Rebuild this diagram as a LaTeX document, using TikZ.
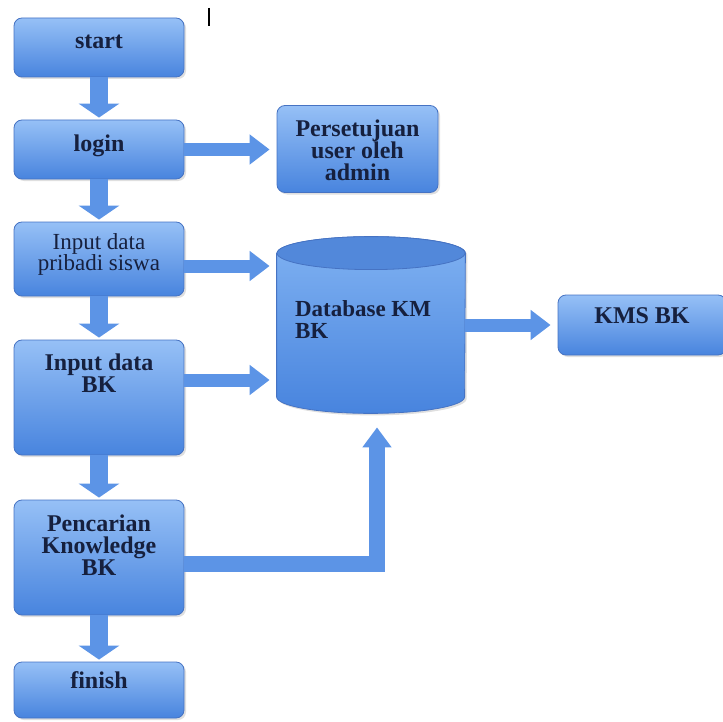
\documentclass[tikz,border=0pt]{standalone}
\usepackage{fontspec}
\setmainfont{Liberation Serif}
\usepackage{xcolor}
\usepackage{tikz}
\usetikzlibrary{positioning}
\usetikzlibrary{calc}
\usetikzlibrary{arrows.meta}
\usetikzlibrary{shadows}
\usetikzlibrary{backgrounds}

\definecolor{boxtop}{RGB}{150,192,246}
\definecolor{boxbot}{RGB}{72,132,222}
\definecolor{boxline}{RGB}{70,115,195}
\definecolor{arrowblue}{RGB}{92,148,230}
\definecolor{dbtop}{RGB}{128,178,242}
\definecolor{dbend}{RGB}{82,136,218}
\definecolor{txt}{RGB}{22,32,62}

\newcommand{\boxtext}[3]{\parbox[c][#1][t]{80pt}{\centering\vspace*{#2}#3}}

\begin{document}
\begin{tikzpicture}
    [%%%%%%%%%%%%%%%%%%%%%%%%%%%%%%
        x=0.5pt, y=-0.5pt,
        box/.style={rectangle, rounded corners=4pt, draw=boxline, thin,
            top color=boxtop, bottom color=boxbot,
            drop shadow={opacity=0.25, shadow xshift=1pt, shadow yshift=-1pt},
            minimum width=85pt, inner sep=0pt, text=txt,
            font=\bfseries\fontsize{12}{11}\selectfont},
        dbtext/.style={rectangle, inner sep=0pt, minimum width=94pt,
            text=txt, font=\bfseries\fontsize{11.5}{11}\selectfont},
        downarrow/.style={draw=arrowblue, line width=9pt,
            -{Triangle[width=20pt,length=7pt]}, shorten >=1pt},
        rightarrow/.style={draw=arrowblue, line width=6.5pt,
            -{Triangle[width=14.5pt,length=10pt]}, shorten >=3.5pt},
        elbowarrow/.style={draw=arrowblue, line width=8pt,
            -{Triangle[width=14pt,length=10pt]}, shorten >=7pt}
    ]%%%%%%%%%%%%%%%%%%%%%%%%%%%%%%

\useasboundingbox (0,0) rectangle (723,722);

% left column
\node[box] (start) at (99,47.5) {\boxtext{29.5pt}{8.5pt}{start}};
\node[box] (login) at (99,149.5) {\boxtext{29.5pt}{7.5pt}{login}};
\node[box, font=\fontsize{11.5}{10.5}\selectfont] (pribadi) at (99,259)
    {\boxtext{37pt}{6pt}{Input data\\pribadi siswa}};
\node[box] (bk) at (99,397.5) {\boxtext{57.5pt}{7pt}{Input data\\BK}};
\node[box] (cari) at (99,557.5) {\boxtext{57.5pt}{7.5pt}{Pencarian\\Knowledge\\BK}};
\node[box] (finish) at (99,690) {\boxtext{28pt}{5pt}{finish}};

% right side
\node[box, minimum width=80.5pt] (pers) at (357.5,149)
    {\boxtext{43.5pt}{7pt}{Persetujuan\\user oleh\\admin}};
\node[box, minimum width=84pt] (kms) at (642,325) {\boxtext{30pt}{6.5pt}{KMS BK}};

% database
\node[dbtext] (db) at (371,325)
    {\parbox[c][88pt][t]{76pt}{\raggedright\vspace*{32pt}Database KM\\BK}};
\begin{scope}[on background layer]
    \shade[top color=dbtop, bottom color=boxbot, draw=boxline, thin,
        drop shadow={opacity=0.25, shadow xshift=1pt, shadow yshift=-1pt}]
        ([yshift=-8.25pt]db.north west) -- ([yshift=8.25pt]db.south west)
        arc[start angle=180, end angle=360, x radius=47pt, y radius=8.25pt]
        -- ([yshift=-8.25pt]db.north east)
        arc[start angle=0, end angle=180, x radius=47pt, y radius=8.25pt] -- cycle;
    \filldraw[fill=dbend, draw=boxline, thin] ([yshift=-8.25pt]db.north)
        ellipse [x radius=47pt, y radius=8.25pt];
\end{scope}

% arrows
\draw[downarrow] (start) -- (login);
\draw[downarrow] (login) -- (pribadi);
\draw[downarrow] (pribadi) -- (bk);
\draw[downarrow] (bk) -- (cari);
\draw[downarrow] (cari) -- (finish);
\draw[rightarrow] (login.east) -- (login.east -| pers.west);
\draw[rightarrow] ([yshift=-3.5pt]pribadi.east) -- ([yshift=-3.5pt]pribadi.east -| db.west);
\draw[rightarrow] ([yshift=8.75pt]bk.east) -- ([yshift=8.75pt]bk.east -| db.west);
\draw[rightarrow] (db) -- (kms);
\draw[elbowarrow] ([yshift=-3.25pt]cari.east) -| ([xshift=3pt]db.south);

\draw[line width=0.7pt] (209,8) -- (209,26);

\end{tikzpicture}
\end{document}
